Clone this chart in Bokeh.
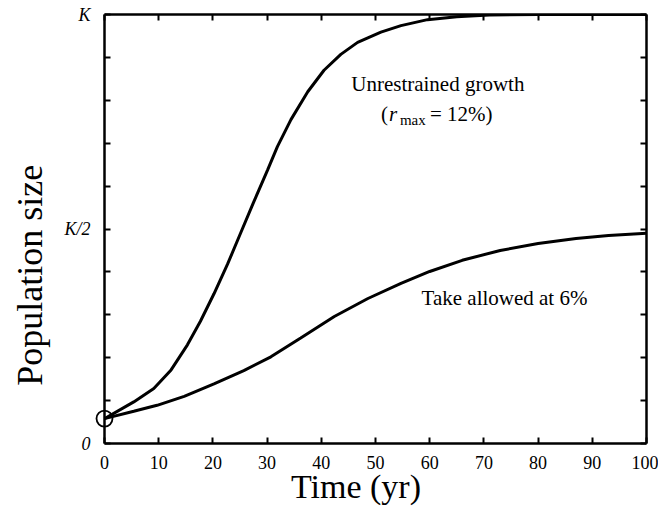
import math
from bokeh.plotting import figure
from bokeh.models import Range1d, LinearAxis, FixedTicker, CustomLabelingPolicy
from bokeh.core.properties import value
from bokeh.embed import file_html
from bokeh.resources import INLINE

# ---- data (population as a fraction of K) ----
years_unrestrained = [0, 5.4, 9.1, 12.2, 15.3, 17.7, 20.2, 22.7, 25.1, 27.5, 30.1, 31.9,
                      34.4, 37.5, 40.5, 43.6, 46.7, 51.0, 54.7, 59.6, 65, 71, 80, 90, 100]
unrestrained = [0.058, 0.097, 0.128, 0.170, 0.230, 0.285, 0.349, 0.418, 0.490, 0.562, 0.638,
                0.692, 0.755, 0.820, 0.870, 0.907, 0.935, 0.959, 0.974, 0.988, 0.995, 0.999,
                1.0, 1.0, 1.0]
years_take = [0, 5.4, 9.7, 14.7, 20.2, 25.7, 30.7, 36.2, 42.4, 48.6, 54.7, 60, 66, 73, 80,
              87, 93, 100]
take = [0.058, 0.075, 0.089, 0.110, 0.139, 0.170, 0.202, 0.246, 0.296, 0.338, 0.373, 0.401,
        0.427, 0.450, 0.466, 0.478, 0.485, 0.490]
start_year = [0]
start_pop = [0.058]

x_ticks = [0, 10, 20, 30, 40, 50, 60, 70, 80, 90, 100]
y_ticks = [0, 0.1, 0.2, 0.3, 0.4, 0.5, 0.6, 0.7, 0.8, 0.9, 1.0]
y_tick_labels = {0: "0", 0.5: "K/2", 1.0: "K"}

FONT = "Liberation Serif"

p = figure(frame_width=542, frame_height=429, output_backend="svg", toolbar_location=None,
           x_range=Range1d(0, 100), y_range=Range1d(0, 1),
           min_border_left=104, min_border_top=14, min_border_right=12, min_border_bottom=65)
p.outline_line_color = None
p.grid.visible = False
p.background_fill_color = "white"
p.border_fill_color = "white"

no_labels = CustomLabelingPolicy(code="return new Set()")
some_labels = CustomLabelingPolicy(code="""
    const r = new Set()
    for (const i of indices) { if (i % 5 == 0) r.add(i) }
    return r
""")

def style_axis(ax, ticks):
    ax.ticker = FixedTicker(ticks=ticks)
    ax.axis_line_width = 2.5
    ax.axis_line_color = "black"
    ax.major_tick_in = 6
    ax.major_tick_out = 0
    ax.major_tick_line_width = 2
    ax.minor_tick_line_color = None
    ax.major_label_text_font = FONT
    ax.major_label_text_font_size = "18px"
    ax.major_label_text_color = "black"

xa = p.xaxis[0]
style_axis(xa, x_ticks)
xa.major_label_standoff = 12

ya = p.yaxis[0]
style_axis(ya, y_ticks)
ya.major_label_overrides = {k: v for k, v in y_tick_labels.items()}
ya.major_label_policy = some_labels
ya.major_label_text_font_style = "italic"
ya.major_label_standoff = 14

for side in ("above", "right"):
    ax = LinearAxis()
    style_axis(ax, x_ticks if side == "above" else y_ticks)
    ax.major_label_policy = no_labels
    ax.major_label_standoff = 0
    ax.major_label_text_font_size = "1px"
    p.add_layout(ax, side)

p.line(years_unrestrained, unrestrained, line_color="black", line_width=3)
p.line(years_take, take, line_color="black", line_width=3)
p.scatter(start_year, start_pop, marker="circle", size=16, fill_color=None,
          line_color="black", line_width=1.8, level="overlay")

def lab(x, y, text, size="21px", style="normal", align="left", angle=0, dx=0, dy=0):
    p.text(x=[x], y=[y], text=[text], text_font=value(FONT), text_font_size=size,
           text_font_style=style, text_align=align, text_baseline="middle",
           text_color="black", angle=angle, x_offset=dx, y_offset=dy, level="overlay")

# axis titles
lab(-13.7, 0.392, "Population size", size="36px", align="center", angle=math.pi / 2)
lab(46.4, -0.10, "Time (yr)", size="34px", align="center")

# annotations
lab(61.5, 0.839, "Unrestrained growth", align="center")
lab(51.0, 0.769, "(")
lab(51.0, 0.769, "r", style="italic", dx=8)
lab(51.0, 0.769, "max", size="15px", dx=19, dy=6)
lab(51.0, 0.769, "= 12%)", dx=49)
lab(73.8, 0.340, "Take allowed at 6%", align="center")

open("out.html", "w").write(file_html(p, INLINE))
